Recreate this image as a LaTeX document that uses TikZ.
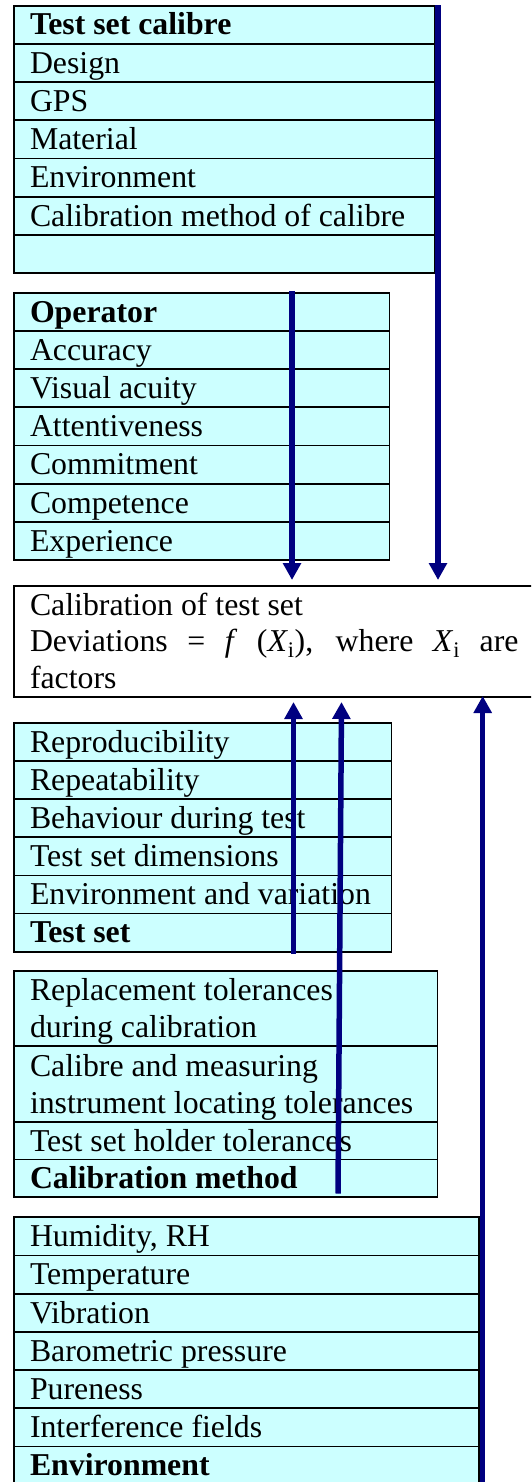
\documentclass[tikz,border=0pt]{standalone}
\usepackage{fontspec}
\setmainfont{Liberation Serif}
\usetikzlibrary{arrows.meta}
\definecolor{cellfill}{HTML}{CCFFFF}
\definecolor{navyline}{HTML}{000080}
\tikzset{
  cell/.style={draw=black, fill=cellfill, line width=1.7pt, rectangle, inner sep=0pt, outer sep=0pt, anchor=north west},
  whitebox/.style={draw=black, fill=white, line width=1.7pt, rectangle, inner sep=0pt, outer sep=0pt, anchor=north west},
  txt/.style={anchor=base west, inner sep=0pt, font=\fontsize{31.8}{36.7}\selectfont},
  arr/.style={draw=navyline, line width=5.5pt, -{Triangle[length=17pt,width=17.5pt]}, fill=navyline}
}
\begin{document}
\begin{tikzpicture}[x=1pt,y=-1pt]
\useasboundingbox (0,0) rectangle (531,1482);
\begin{scope}
\clip (0,0) rectangle (531,1482);
% Box 1: Test set calibre
\foreach \t [count=\i from 0] in {{\textbf{Test set calibre}},Design,GPS,Material,Environment,{Calibration method of calibre},{}} {
  \node[cell, minimum width=421pt, minimum height=38.2pt] (ca-\i) at (14,{5.7+38.2*\i}) {};
  \node[txt] (ta-\i) at (29.8,{5.7+38.2*\i+29.3}) {\t};
}
% Box 2: Operator
\foreach \t [count=\i from 0] in {{\textbf{Operator}},Accuracy,{Visual acuity},Attentiveness,Commitment,Competence,Experience} {
  \node[cell, minimum width=375.5pt, minimum height=38.2pt] (cb-\i) at (14,{292.7+38.2*\i}) {};
  \node[txt] (tb-\i) at (29.8,{292.7+38.2*\i+29.3}) {\t};
}
% Box 3: Calibration of test set
\node[whitebox, minimum width=519pt, minimum height=111pt] (calib) at (14,585.7) {};
\node[txt] (tc-1) at (29.8,615) {Calibration of test set};
\node[txt] (tc-2) at (29.8,651.7) {\makebox[488.5pt][s]{Deviations = \textit{f} (\textit{X}\textsubscript{i}), where \textit{X}\textsubscript{i} are}};
\node[txt] (tc-3) at (29.8,688) {factors};
% Box 4: Test set
\foreach \t [count=\i from 0] in {Reproducibility,Repeatability,{Behaviour during test},{Test set dimensions},{Environment and variation},{\textbf{Test set}}} {
  \node[cell, minimum width=377.5pt, minimum height=38.17pt] (cd-\i) at (14,{722.7+38.17*\i}) {};
  \node[txt] (td-\i) at (29.8,{722.7+38.17*\i+29.3}) {\t};
}
% Box 5: Calibration method
\node[cell, minimum width=423.5pt, minimum height=75pt] (ce-0) at (14,971) {};
\node[txt] (te-0a) at (29.8,1000.3) {Replacement tolerances};
\node[txt] (te-0b) at (29.8,1037) {during calibration};
\node[cell, minimum width=423.5pt, minimum height=75.7pt] (ce-1) at (14,1046) {};
\node[txt] (te-1a) at (29.8,1076.5) {Calibre and measuring};
\node[txt] (te-1b) at (29.8,1113) {instrument locating tolerances};
\node[cell, minimum width=423.5pt, minimum height=37.8pt] (ce-2) at (14,1121.7) {};
\node[txt] (te-2) at (29.8,1151) {Test set holder tolerances};
\node[cell, minimum width=423.5pt, minimum height=37.8pt] (ce-3) at (14,1159.5) {};
\node[txt] (te-3) at (29.8,1188.8) {\textbf{Calibration method}};
% Box 6: Environment
\foreach \t [count=\i from 0] in {{Humidity, RH},Temperature,Vibration,{Barometric pressure},Pureness,{Interference fields},{\textbf{Environment}}} {
  \node[cell, minimum width=465pt, minimum height=38.2pt] (cf-\i) at (14,{1217.3+38.2*\i}) {};
  \node[txt] (tf-\i) at (29.8,{1217.3+38.2*\i+29.3}) {\t};
}
% Arrows
\coordinate (a-start) at (292,291);
\coordinate (a-end) at (292,580);
\coordinate (b-start) at (438,5.2);
\coordinate (b-end) at (438,580);
\coordinate (c-start) at (293.5,953.5);
\coordinate (c-end) at (293.5,702);
\coordinate (d-start) at (338,1193.5);
\coordinate (d-end) at (341.5,702);
\coordinate (e-start) at (482.7,1495);
\coordinate (e-end) at (482.7,696);
\draw[arr] (a-start) -- (a-end);
\draw[arr] (b-start) -- (b-end);
\draw[arr] (c-start) -- (c-end);
\draw[arr] (d-start) -- (d-end);
\draw[arr] (e-start) -- (e-end);
\end{scope}
\end{tikzpicture}
\end{document}
